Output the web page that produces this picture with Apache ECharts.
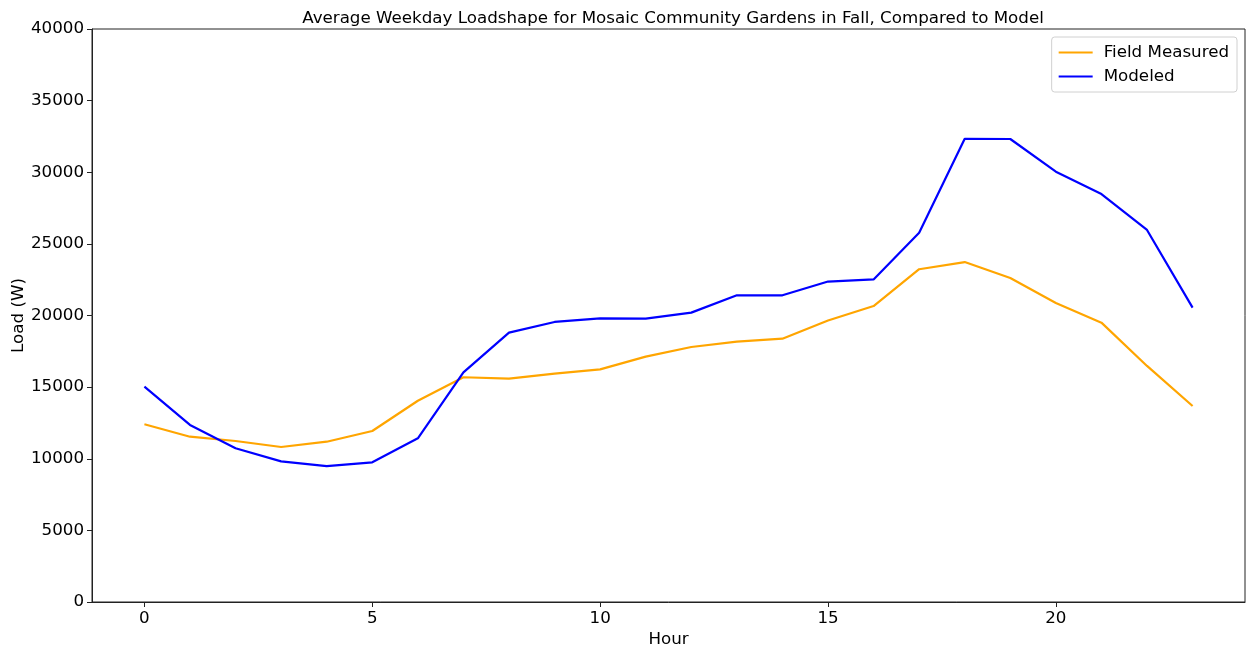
<!DOCTYPE html>
<html>
<head>
<meta charset="utf-8">
<script src="https://cdn.jsdelivr.net/npm/echarts@6/dist/echarts.min.js"></script>
<style>
  html, body { margin: 0; padding: 0; background: #fff; }
  #chart { width: 1247px; height: 649px; }
</style>
</head>
<body>
<div id="chart"></div>
<script>
// Hour of day (0-23)
const hours = [0,1,2,3,4,5,6,7,8,9,10,11,12,13,14,15,16,17,18,19,20,21,22,23];

// Average weekday load in watts
const fieldMeasured = [12405,11540,11240,10820,11190,11940,14050,15690,15590,15940,16240,17130,17800,18170,18380,19650,20660,23230,23730,22620,20870,19500,16480,13680];
const modeled = [15030,12360,10730,9820,9490,9750,11430,16030,18800,19550,19800,19780,20200,21410,21410,22370,22520,25780,32340,32320,30040,28480,25970,20550];

const xTicks = [0,5,10,15,20];
const yTicks = [0,5000,10000,15000,20000,25000,30000,35000,40000];

const font = 'DejaVu Sans, sans-serif';
const fs = 16.7;
const axisColor = '#222';
const toPairs = vals => hours.map((h, i) => [h, vals[i]]);

const chart = echarts.init(document.getElementById('chart'), null, { renderer: 'canvas' });
chart.setOption({
  animation: false,
  backgroundColor: '#ffffff',
  title: {
    text: 'Average Weekday Loadshape for Mosaic Community Gardens in Fall, Compared to Model',
    left: 668, textAlign: 'center', top: 5,
    textStyle: { fontFamily: font, fontSize: fs, fontWeight: 'normal', color: '#000' }
  },
  grid: {
    left: 92, right: 2, top: 29, bottom: 47,
    outerBoundsMode: 'none', containLabel: false,
    show: true, borderColor: axisColor, borderWidth: 1, backgroundColor: '#fff'
  },
  legend: {
    right: 10, top: 37,
    orient: 'vertical',
    itemGap: 7,
    itemWidth: 34, itemHeight: 2,
    icon: 'rect',
    padding: [7, 8, 7, 7],
    borderColor: '#d0d0d0', borderWidth: 1, borderRadius: 3,
    backgroundColor: 'rgba(255,255,255,0.8)',
    textStyle: { fontFamily: font, fontSize: fs, color: '#000', padding: [0, 0, 0, 6] },
    data: ['Field Measured', 'Modeled']
  },
  xAxis: {
    type: 'value', min: -1.15, max: 24.15,
    name: 'Hour', nameLocation: 'middle', nameGap: 29, nameMoveOverlap: false,
    nameTextStyle: { fontFamily: font, fontSize: fs, color: '#000' },
    axisLine: { show: true, onZero: false, lineStyle: { color: axisColor, width: 1 } },
    axisTick: { show: true, length: 5, customValues: xTicks, lineStyle: { color: axisColor } },
    axisLabel: { customValues: xTicks, fontFamily: font, fontSize: fs, color: '#000', margin: 8 },
    splitLine: { show: false }
  },
  yAxis: {
    type: 'value', min: 0, max: 40000, interval: 5000,
    name: 'Load (W)', nameLocation: 'middle', nameGap: 65, nameRotate: 90, nameMoveOverlap: false,
    nameTextStyle: { fontFamily: font, fontSize: fs, color: '#000' },
    axisLine: { show: true, onZero: false, lineStyle: { color: axisColor, width: 1 } },
    axisTick: { show: true, length: 5, customValues: yTicks, lineStyle: { color: axisColor } },
    axisLabel: {
      customValues: yTicks, fontFamily: font, fontSize: fs, color: '#000', margin: 8,
      formatter: v => String(v)
    },
    splitLine: { show: false }
  },
  series: [
    {
      name: 'Field Measured', type: 'line', data: toPairs(fieldMeasured),
      showSymbol: false, symbol: 'none', color: '#FFA500',
      lineStyle: { color: '#FFA500', width: 2.2 }
    },
    {
      name: 'Modeled', type: 'line', data: toPairs(modeled),
      showSymbol: false, symbol: 'none', color: '#0000FF',
      lineStyle: { color: '#0000FF', width: 2.2 }
    }
  ]
});
</script>
</body>
</html>
